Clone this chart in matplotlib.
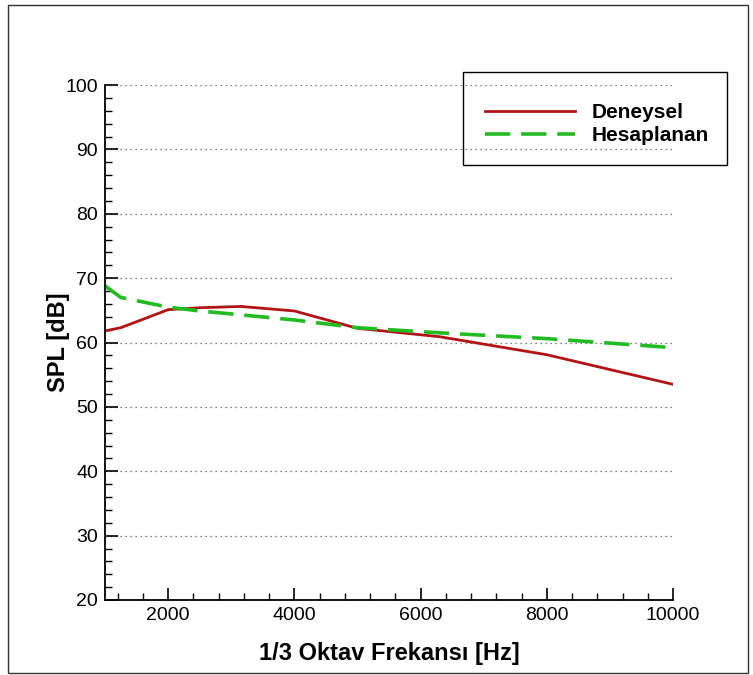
import numpy as np
import matplotlib.pyplot as plt
from matplotlib.patches import Rectangle
from matplotlib.ticker import MultipleLocator

# 1/3 octave band centre frequencies
freq = [1000, 1250, 1600, 2000, 2500, 3150, 4000, 5000, 6300, 8000, 10000]
# measured SPL (red, solid)
spl_deneysel = [61.8, 62.3, 63.6, 65.1, 65.4, 65.6, 64.9, 62.2, 60.9, 58.1, 53.5]
# computed SPL (green, dashed)
spl_hesaplanan = [68.8, 67.0, 66.3, 65.5, 64.9, 64.3, 63.5, 62.3, 61.5, 60.6, 59.2]

plt.rcParams['font.family'] = ['Liberation Sans', 'DejaVu Sans']

fig = plt.figure(figsize=(7.53, 6.75), dpi=100)
ax = fig.add_axes([105/753, 1-600/675, 568/753, 515/675])

ax.plot(freq, spl_deneysel, color='#b01414', lw=2.0, label='Deneysel')
ax.plot(freq, spl_hesaplanan, color='#22bb22', lw=2.6, dashes=(7, 3), label='Hesaplanan')

ax.set_xlim(1000, 10000)
ax.set_ylim(20, 100)
ax.xaxis.set_major_locator(MultipleLocator(2000))
ax.xaxis.set_minor_locator(MultipleLocator(400))
ax.yaxis.set_major_locator(MultipleLocator(10))
ax.yaxis.set_minor_locator(MultipleLocator(2))
ax.set_xticks([2000, 4000, 6000, 8000, 10000])

for s in ['top', 'right']:
    ax.spines[s].set_visible(False)
for s in ['left', 'bottom']:
    ax.spines[s].set_linewidth(1.3)

ax.tick_params(which='major', direction='in', length=9, width=1.2, labelsize=14, pad=5)
ax.tick_params(which='minor', direction='in', length=5, width=1.0)

for yv in range(30, 101, 10):
    ax.axhline(yv, color='#555555', lw=0.9, ls=(0, (1, 3)), zorder=0)

ax.set_xlabel('1/3 Oktav Frekansı [Hz]', fontsize=17, fontweight='bold', labelpad=13)
ax.set_ylabel('SPL [dB]', fontsize=17, fontweight='bold', labelpad=-3)

# legend: text/lines without frame, box drawn separately
leg = fig.legend(loc='upper left', bbox_to_anchor=(485/753, 1-103/675),
                 prop={'weight': 'bold', 'size': 15}, frameon=False,
                 handlelength=4.3, borderpad=0, labelspacing=0.2, handletextpad=0.8,
                 borderaxespad=0)
fig.patches.append(Rectangle((463/753, 1-165/675), 264/753, 93/675, transform=fig.transFigure,
                             fill=False, edgecolor='black', lw=1.0))

# outer frame
fig.patches.append(Rectangle((8/753, 2/675), 740/753, 668/675, transform=fig.transFigure,
                             fill=False, edgecolor='#333333', lw=1.0))

fig.savefig('out.png', dpi=100)
